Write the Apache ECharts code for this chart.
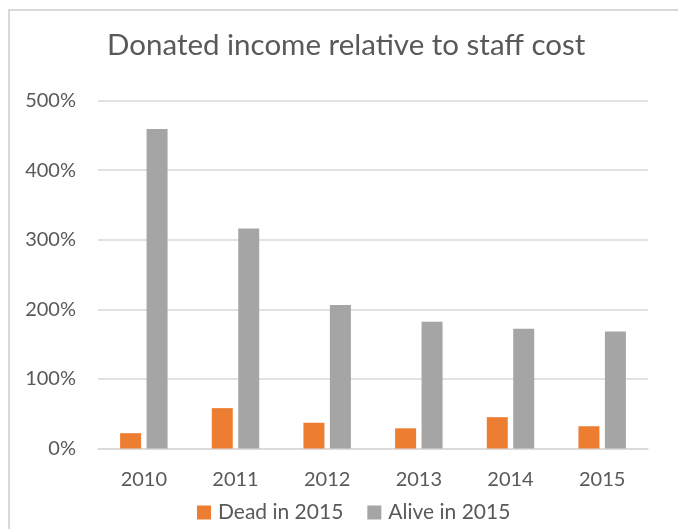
<!DOCTYPE html>
<html>
<head>
<meta charset="utf-8">
<script src="https://cdn.jsdelivr.net/npm/echarts@6/dist/echarts.min.js"></script>
<style>
html,body{margin:0;padding:0;background:#fff;}
#chart{width:678px;height:529px;}
</style>
</head>
<body>
<div id="chart"></div>
<script>
const categories = ['2010', '2011', '2012', '2013', '2014', '2015'];
const deadIn2015 = [22, 58, 37, 29, 45, 32];
const aliveIn2015 = [459, 316, 206, 182, 172, 168];
const yTicks = [0, 100, 200, 300, 400, 500];
const seriesNames = ['Dead in 2015', 'Alive in 2015'];

const FONT = 'Lato';
const TXT = '#595959';
const chart = echarts.init(document.getElementById('chart'), null, {renderer: 'canvas'});
chart.setOption({
  backgroundColor: '#fff',
  animation: false,
  title: {
    text: 'Donated income relative to staff cost',
    left: 107,
    top: 30,
    padding: 0,
    textStyle: {fontFamily: FONT, fontSize: 29.5, fontWeight: 'normal', color: TXT}
  },
  legend: {
    data: seriesNames,
    bottom: 1,
    left: 192,
    itemWidth: 14,
    itemHeight: 14,
    itemGap: 24,
    icon: 'rect',
    textStyle: {fontFamily: FONT, fontSize: 21, color: TXT, padding: [0, 0, 0, 2]}
  },
  grid: {left: 98, right: 30, top: 100.5, bottom: 80.5, containLabel: false},
  xAxis: {
    type: 'category',
    data: categories,
    axisLine: {show: true, lineStyle: {color: '#d9d9d9', width: 1.5}},
    axisTick: {show: false},
    axisLabel: {fontFamily: FONT, fontSize: 20, color: TXT, margin: 21}
  },
  yAxis: {
    type: 'value',
    min: yTicks[0],
    max: yTicks[yTicks.length - 1],
    interval: 100,
    axisLine: {show: false},
    axisTick: {show: false},
    splitLine: {lineStyle: {color: '#d9d9d9', width: 1.5}},
    axisLabel: {fontFamily: FONT, fontSize: 20, color: TXT, margin: 22, formatter: v => v + '%'}
  },
  graphic: [{
    type: 'rect',
    shape: {x: 9, y: 10, width: 720, height: 600},
    style: {fill: 'none', stroke: '#d9d9d9', lineWidth: 2},
    silent: true,
    z: 0
  }],
  series: [
    {name: seriesNames[0], type: 'bar', data: deadIn2015, barWidth: 21, barGap: '26%',
     itemStyle: {color: '#ED7D31'}},
    {name: seriesNames[1], type: 'bar', data: aliveIn2015, barWidth: 21, barGap: '26%',
     itemStyle: {color: '#A5A5A5'}}
  ]
});
</script>
</body>
</html>
